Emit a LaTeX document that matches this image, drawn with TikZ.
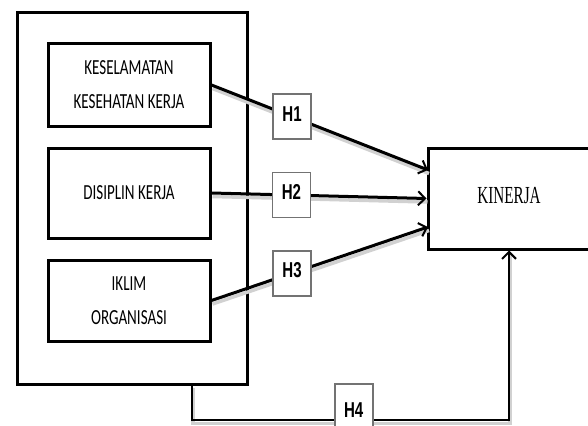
\documentclass[tikz,border=0pt]{standalone}
\usepackage{fontspec}
\usepackage{graphicx}
\usetikzlibrary{arrows.meta}
\newfontfamily\varfont{Carlito}
\newfontfamily\hypfont{Liberation Sans}
\newfontfamily\kinfont{Liberation Serif}
% narrow text, as in the picture
\newcommand{\narrowtext}[2]{\scalebox{#1}[1]{\begin{tabular}{@{}c@{}}#2\end{tabular}}}
\tikzset{
  varbox/.style={draw, line width=3pt, minimum width=162pt, inner sep=0pt, align=center,
    font=\varfont\fontsize{21.5}{34}\selectfont},
  hypbox/.style={draw=black!55, line width=1.8pt, fill=white, minimum width=38pt,
    minimum height=45pt, inner sep=0pt, font=\hypfont\bfseries\fontsize{21.5}{24}\selectfont},
  conn/.style={line width=3pt, -{Straight Barb[length=7pt,width=14pt,line width=2pt]},
    preaction={draw=black!18, line width=3.5pt, -, transform canvas={shift={(1pt,-3.5pt)}}}},
}
\begin{document}
\begin{tikzpicture}[x=1pt,y=-1pt]
                \clip (0,0) rectangle (588,425);
                \useasboundingbox (0,0) rectangle (588,425);
                
                % Drawing outer frame
                \node [draw, line width=3pt, minimum width=230pt, minimum height=371pt] (outer) at (132,198.5) {};%
                
                % Marking variable boxes
                \node [varbox, minimum height=82pt] (k1) at (129,85) {\narrowtext{0.70}{KESELAMATAN\\KESEHATAN KERJA}};%
                \node [varbox, minimum height=90pt] (k2) at (129,193) {\narrowtext{0.70}{DISIPLIN KERJA}};%
                \node [varbox, minimum height=81pt] (k3) at (129,300.5) {\narrowtext{0.70}{IKLIM\\ORGANISASI}};%
                
                % Marking box KINERJA
                \node [draw, line width=3pt, minimum width=162pt, minimum height=101pt,
                  font=\kinfont\fontsize{24.5}{26}\selectfont] (kin) at (509,198.5) {\narrowtext{0.62}{KINERJA}};%
                
                % Arrow ends on KINERJA
                \coordinate (e1) at (428,170);%
                \coordinate (e3) at (428,227);%
                \coordinate (s4) at (192,384);%
                \coordinate (c4) at (192,420);%
                
                % Drawing segments with H1, H2, H3
                \draw [conn] (k1.east) -- node [hypbox, pos=0.372] (h1) {\narrowtext{0.70}{H1}} (e1);%
                \draw [conn] (k2.east) -- node [hypbox, pos=0.372] (h2) {\narrowtext{0.70}{H2}} (kin.west);%
                \draw [conn] (k3.east) -- node [hypbox, pos=0.372] (h3) {\narrowtext{0.70}{H3}} (e3);%
                
                % Drawing segment frame KINERJA with H4
                \draw [conn, line width=2.6pt] (s4) -- (c4) -| node [hypbox, pos=0.255, minimum height=72pt] (h4) {\raisebox{21pt}{\narrowtext{0.70}{H4}}} (kin.south);%
            \end{tikzpicture}
\end{document}
